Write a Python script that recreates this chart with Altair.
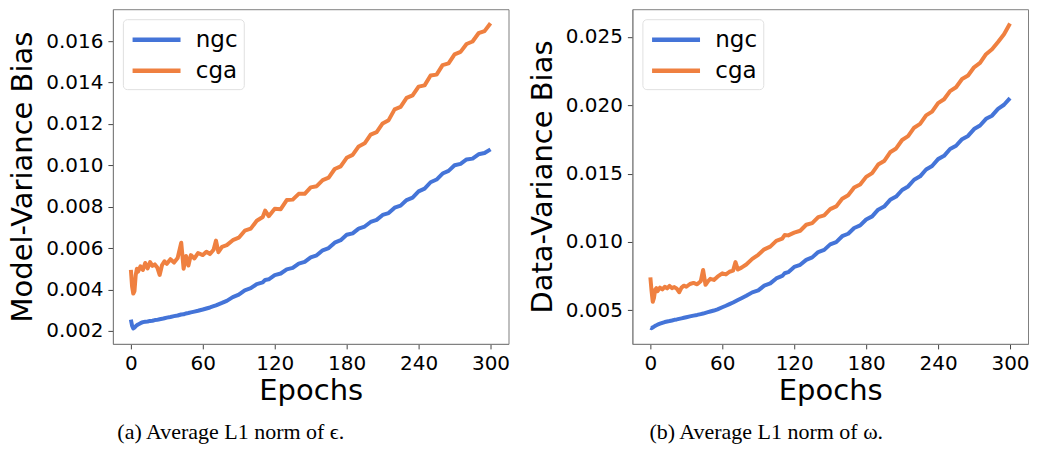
import altair as alt
import pandas as pd

epochs = [0, 1, 2, 3, 4, 5, 6, 8, 10, 12, 14, 16, 18, 20, 22, 24, 26, 28, 30,
          33, 36, 39, 42, 44, 46, 48, 50, 53, 56, 60, 63, 66, 69, 71, 73, 76, 80,
          85, 90, 95, 100, 105, 110, 112, 115, 120, 125, 130, 135, 140, 145, 150,
          155, 160, 165, 170, 175, 180, 185, 190, 195, 200, 205, 210, 215, 220,
          225, 230, 235, 240, 245, 250, 255, 260, 265, 270, 275, 280, 285, 290,
          295, 300]

model_ngc = [0.00254, 0.00225, 0.00212, 0.00216, 0.00222, 0.00227, 0.00231, 0.00237,
             0.00242, 0.00244, 0.00245, 0.00248, 0.00249, 0.00252, 0.00253, 0.00256,
             0.00258, 0.00261, 0.00264, 0.00267, 0.00271, 0.00274, 0.00279, 0.00280,
             0.00284, 0.00286, 0.00289, 0.00293, 0.00297, 0.00303, 0.00308, 0.00313,
             0.00319, 0.00323, 0.00328, 0.00335, 0.00345,
             0.00363, 0.00375, 0.00396, 0.00406, 0.00426, 0.00434, 0.00446, 0.00449,
             0.00469, 0.00477, 0.00497, 0.00504, 0.00525, 0.00533, 0.00555, 0.00565,
             0.00589, 0.00600, 0.00626, 0.00638, 0.00664, 0.00671, 0.00694, 0.00704,
             0.00726, 0.00736, 0.00760, 0.00769, 0.00795, 0.00805, 0.00832, 0.00844,
             0.00874, 0.00887, 0.00918, 0.00931, 0.00960, 0.00973, 0.01000, 0.01007,
             0.01028, 0.01032, 0.01053, 0.01059, 0.01077]

model_cga = [0.00495, 0.00415, 0.00380, 0.00392, 0.00468, 0.00500, 0.00486, 0.00512,
             0.00494, 0.00528, 0.00502, 0.00532, 0.00514, 0.00521, 0.00506, 0.00470,
             0.00518, 0.00536, 0.00524, 0.00546, 0.00530, 0.00552, 0.00626, 0.00500,
             0.00562, 0.00516, 0.00566, 0.00550, 0.00576, 0.00566, 0.00582, 0.00571,
             0.00592, 0.00636, 0.00580, 0.00606, 0.00614,
             0.00638, 0.00650, 0.00684, 0.00694, 0.00732, 0.00750, 0.00781, 0.00754,
             0.00790, 0.00788, 0.00832, 0.00834, 0.00862, 0.00862, 0.00893, 0.00899,
             0.00928, 0.00940, 0.00982, 0.00995, 0.01036, 0.01050, 0.01091, 0.01106,
             0.01148, 0.01160, 0.01202, 0.01218, 0.01270, 0.01282, 0.01326, 0.01338,
             0.01380, 0.01386, 0.01434, 0.01438, 0.01484, 0.01492, 0.01536, 0.01548,
             0.01586, 0.01598, 0.01638, 0.01648, 0.01686]

data_ngc = [0.00372, 0.00368, 0.00375, 0.00380, 0.00386, 0.00390, 0.00395, 0.00402,
            0.00408, 0.00414, 0.00418, 0.00421, 0.00425, 0.00430, 0.00433, 0.00437,
            0.00441, 0.00445, 0.00449, 0.00455, 0.00461, 0.00466, 0.00472, 0.00476,
            0.00481, 0.00486, 0.00491, 0.00498, 0.00507, 0.00522, 0.00533, 0.00545,
            0.00557, 0.00566, 0.00575, 0.00588, 0.00606,
            0.00631, 0.00646, 0.00680, 0.00697, 0.00733, 0.00751, 0.00771, 0.00779,
            0.00817, 0.00833, 0.00869, 0.00887, 0.00926, 0.00942, 0.00982, 0.00999,
            0.01042, 0.01060, 0.01102, 0.01121, 0.01164, 0.01187, 0.01236, 0.01259,
            0.01308, 0.01332, 0.01380, 0.01406, 0.01455, 0.01480, 0.01530, 0.01556,
            0.01606, 0.01630, 0.01680, 0.01704, 0.01752, 0.01776, 0.01826, 0.01852,
            0.01901, 0.01924, 0.01974, 0.02004, 0.02052]

data_cga = [0.00741, 0.00640, 0.00562, 0.00590, 0.00650, 0.00662, 0.00640, 0.00665,
            0.00652, 0.00672, 0.00660, 0.00678, 0.00662, 0.00670, 0.00658, 0.00632,
            0.00666, 0.00680, 0.00672, 0.00692, 0.00700, 0.00690, 0.00712, 0.00795,
            0.00686, 0.00712, 0.00730, 0.00722, 0.00746, 0.00770, 0.00762, 0.00782,
            0.00790, 0.00852, 0.00798, 0.00812, 0.00835,
            0.00876, 0.00906, 0.00946, 0.00966, 0.01008, 0.01024, 0.01050, 0.01048,
            0.01068, 0.01082, 0.01126, 0.01138, 0.01182, 0.01194, 0.01240, 0.01260,
            0.01316, 0.01342, 0.01398, 0.01420, 0.01476, 0.01504, 0.01566, 0.01592,
            0.01656, 0.01684, 0.01746, 0.01774, 0.01836, 0.01864, 0.01926, 0.01954,
            0.02016, 0.02044, 0.02104, 0.02132, 0.02192, 0.02218, 0.02278, 0.02310,
            0.02374, 0.02410, 0.02463, 0.02520, 0.02598]

series_names = ["ngc", "cga"]
colors = ["#4474d8", "#ef8040"]
x_ticks = [0, 60, 120, 180, 240, 300]
y_ticks_model = [0.002, 0.004, 0.006, 0.008, 0.010, 0.012, 0.014, 0.016]
y_ticks_data = [0.005, 0.010, 0.015, 0.020, 0.025]


def long_df(a, b):
    n = min(len(epochs), len(a), len(b))
    rows = []
    for name, vals in zip(series_names, [a, b]):
        for i in range(n):
            rows.append({"epoch": epochs[i], "value": vals[i], "series": name})
    return pd.DataFrame(rows)


FONT = "DejaVu Sans"


def panel(df, ydomain, yticks, ytitle, caption, cap_dx):
    return alt.Chart(df).mark_line(strokeWidth=4, strokeJoin="round").encode(
        x=alt.X("epoch:Q",
                scale=alt.Scale(domain=[-15, 315], nice=False, zero=False),
                axis=alt.Axis(values=x_ticks, title="Epochs", format="d",
                              titleFontSize=29, titlePadding=3)),
        y=alt.Y("value:Q",
                scale=alt.Scale(domain=ydomain, nice=False, zero=False),
                axis=alt.Axis(values=yticks, title=ytitle, format=".3f",
                              titleFontSize=29, titlePadding=8)),
        color=alt.Color("series:N",
                        scale=alt.Scale(domain=series_names, range=colors),
                        legend=alt.Legend(title=None, orient="top-left", offset=10,
                                          symbolType="M-0.9,0H3.1",
                                          symbolStrokeWidth=4.5,
                                          symbolSize=576, labelFontSize=23,
                                          labelFont=FONT, labelColor="black",
                                          fillColor="white", strokeColor="#e0e0e0",
                                          cornerRadius=4, padding=6, rowPadding=4,
                                          labelOffset=38)),
        detail="series:N",
    ).properties(
        width=396, height=335,
        title=alt.TitleParams(text=caption, orient="bottom", anchor="middle",
                              font="Liberation Serif", fontSize=22,
                              fontWeight="normal", color="black", offset=16,
                              dx=cap_dx, frame="group"),
    )


left = panel(long_df(model_ngc, model_cga), [0.00137, 0.01754], y_ticks_model,
             "Model-Variance Bias", "(a) Average L1 norm of \u03f5.", -80)
right = panel(long_df(data_ngc, data_cga), [0.00254, 0.02703], y_ticks_data,
              "Data-Variance Bias", "(b) Average L1 norm of \u03c9.", -64)

chart = alt.hconcat(left, right, spacing=17).resolve_scale(
    color="independent").resolve_legend(color="independent").properties(
    padding=0
).configure_view(
    stroke="#808080", strokeWidth=1
).configure_axis(
    grid=False, labelFont=FONT, labelFontSize=20, labelColor="black",
    titleFont=FONT, titleFontWeight="normal", titleColor="black",
    tickSize=5, tickColor="#444", domainColor="#808080", labelPadding=5
)

chart.save("out.html", embed_options={"renderer": "svg", "actions": False})
